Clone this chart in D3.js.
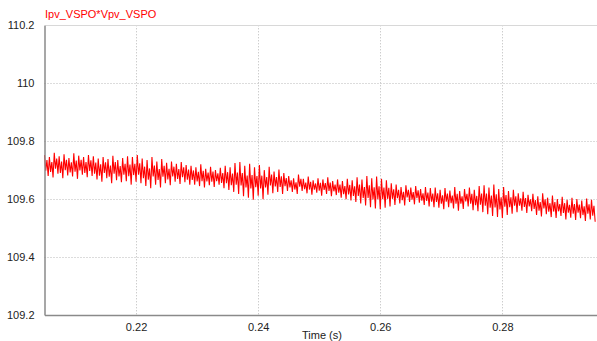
<!DOCTYPE html>
<html><head><meta charset="utf-8">
<script src="https://cdn.jsdelivr.net/npm/d3@7"></script>
<style>html,body{margin:0;padding:0;background:#fff;overflow:hidden}</style>
</head><body><svg id="c" width="597" height="341"></svg>
<script>
const seriesName = "Ipv_VSPO*Vpv_VSPO";
const xLabel = "Time (s)";
const xTicks = [0.22, 0.24, 0.26, 0.28];
const yTicks = [109.2, 109.4, 109.6, 109.8, 110, 110.2];
const yTickLabels = ["109.2", "109.4", "109.6", "109.8", "110", "110.2"];
const timeStart = 0.205;
const timeStep = 0.0002;
const values = [
109.752,109.698,109.735,109.680, 109.745,109.694,109.728,109.675, 109.760,109.705,109.740,109.688, 109.748,109.690,109.730,109.672,
109.755,109.700,109.736,109.682, 109.742,109.692,109.727,109.678, 109.758,109.695,109.733,109.670, 109.750,109.699,109.736,109.684,
109.745,109.690,109.728,109.676, 109.752,109.697,109.734,109.680, 109.748,109.688,109.726,109.668, 109.740,109.681,109.720,109.660,
109.745,109.690,109.727,109.672, 109.738,109.677,109.716,109.655, 109.750,109.688,109.728,109.665, 109.735,109.678,109.714,109.658,
109.742,109.684,109.722,109.662, 109.748,109.679,109.719,109.650, 109.745,109.683,109.722,109.660, 109.752,109.684,109.724,109.655,
109.740,109.672,109.712,109.645, 109.735,109.667,109.706,109.638, 109.745,109.678,109.716,109.650, 109.730,109.666,109.704,109.640,
109.738,109.677,109.715,109.655, 109.725,109.668,109.705,109.648, 109.730,109.678,109.712,109.660, 109.722,109.670,109.704,109.652,
109.728,109.676,109.710,109.658, 109.718,109.667,109.702,109.650, 109.715,109.666,109.699,109.650, 109.710,109.661,109.694,109.645,
109.720,109.662,109.698,109.640, 109.705,109.661,109.692,109.648, 109.712,109.660,109.695,109.642, 109.700,109.662,109.689,109.650,
109.708,109.656,109.690,109.638, 109.715,109.655,109.693,109.632, 109.710,109.648,109.688,109.625, 109.725,109.650,109.692,109.618,
109.728,109.647,109.690,109.610, 109.715,109.640,109.681,109.605, 109.722,109.637,109.683,109.598, 109.710,109.641,109.680,109.612,
109.718,109.637,109.681,109.600, 109.700,109.640,109.676,109.615, 109.712,109.647,109.685,109.620, 109.695,109.644,109.676,109.625,
109.702,109.642,109.679,109.618, 109.690,109.645,109.673,109.628, 109.680,109.640,109.665,109.625, 109.672,109.633,109.658,109.618,
109.685,109.643,109.670,109.628, 109.670,109.634,109.657,109.620, 109.678,109.633,109.660,109.615, 109.665,109.633,109.654,109.622,
109.672,109.629,109.656,109.612, 109.668,109.632,109.655,109.618, 109.675,109.628,109.657,109.610, 109.662,109.627,109.650,109.614,
109.668,109.622,109.650,109.605, 109.662,109.617,109.645,109.600, 109.670,109.616,109.649,109.595, 109.665,109.611,109.644,109.590,
109.675,109.611,109.650,109.585, 109.668,109.604,109.642,109.578, 109.680,109.604,109.648,109.572, 109.672,109.599,109.641,109.568,
109.678,109.600,109.644,109.565, 109.670,109.600,109.640,109.570, 109.665,109.601,109.639,109.575, 109.655,109.601,109.634,109.580,
109.650,109.603,109.632,109.585, 109.642,109.596,109.625,109.578, 109.648,109.606,109.632,109.590, 109.640,109.598,109.624,109.582,
109.645,109.603,109.630,109.588, 109.635,109.595,109.620,109.580, 109.642,109.594,109.623,109.575, 109.638,109.591,109.619,109.572,
109.640,109.590,109.620,109.570, 109.632,109.584,109.613,109.565, 109.638,109.591,109.619,109.572, 109.630,109.586,109.612,109.568,
109.642,109.584,109.618,109.560, 109.628,109.584,109.610,109.566, 109.635,109.592,109.618,109.575, 109.640,109.584,109.618,109.562,
109.632,109.579,109.611,109.558, 109.645,109.581,109.619,109.555, 109.648,109.577,109.619,109.548, 109.640,109.570,109.612,109.542,
109.650,109.571,109.617,109.538, 109.635,109.564,109.606,109.535, 109.642,109.574,109.614,109.545, 109.628,109.572,109.606,109.550,
109.632,109.577,109.610,109.555, 109.620,109.577,109.603,109.560, 109.625,109.573,109.604,109.552, 109.615,109.575,109.599,109.558,
109.618,109.566,109.597,109.545, 109.610,109.560,109.590,109.540, 109.620,109.568,109.599,109.548, 109.605,109.557,109.586,109.538,
109.612,109.557,109.590,109.535, 109.600,109.558,109.583,109.542, 109.608,109.552,109.586,109.530, 109.598,109.553,109.580,109.536,
109.605,109.550,109.583,109.528, 109.600,109.553,109.581,109.534, 109.595,109.545,109.575,109.525, 109.602,109.550,109.582,109.530,
109.598,109.543,109.577,109.522
];

const W = 597, H = 341;
const m = {left: 44.5, top: 25.3, right: 597, bottom: 315};
const svg = d3.select("#c");
const x = d3.scaleLinear().domain([0.205, 0.2955]).range([m.left, m.right]);
const y = d3.scaleLinear().domain([109.2, 110.2]).range([m.bottom, m.top]);
const font = "'Liberation Sans', Arial, sans-serif";

// grid
const grid = svg.append("g");
grid.selectAll(".gx").data(xTicks).join("line")
  .attr("x1", d => Math.round(x(d)) + 0.5).attr("x2", d => Math.round(x(d)) + 0.5)
  .attr("y1", m.top).attr("y2", m.bottom)
  .attr("stroke", "#b8b8b8").attr("stroke-width", 1).attr("stroke-dasharray", "1,2");
grid.selectAll(".gy").data(yTicks.slice(1, -1)).join("line")
  .attr("x1", m.left).attr("x2", m.right)
  .attr("y1", d => Math.round(y(d)) + 0.5).attr("y2", d => Math.round(y(d)) + 0.5)
  .attr("stroke", "#b8b8b8").attr("stroke-width", 1).attr("stroke-dasharray", "1,2");

// top border
svg.append("line").attr("x1", m.left).attr("x2", m.right)
  .attr("y1", Math.round(m.top) + 0.5).attr("y2", Math.round(m.top) + 0.5)
  .attr("stroke", "#d8d8d8");

// data line
const data = values.map((v, i) => [timeStart + i * timeStep, v]);
svg.append("path").datum(data)
  .attr("fill", "none").attr("stroke", "#ff0000").attr("stroke-width", 1.1)
  .attr("d", d3.line().x(d => x(d[0])).y(d => y(d[1])));

// axes
const ax = d3.axisBottom(x).tickValues(xTicks).tickSize(0).tickPadding(8).tickFormat(d3.format(".2f"));
const gx = svg.append("g").attr("transform", `translate(0,${m.bottom})`).call(ax);
gx.select(".domain").attr("stroke", "#8a8a8a").attr("stroke-width", 1.5);
gx.selectAll("text").attr("font-family", font).attr("font-size", 11).attr("fill", "#222");

const ay = d3.axisLeft(y).tickValues(yTicks).tickSize(0).tickPadding(10)
  .tickFormat((d, i) => yTickLabels[i]);
const gy = svg.append("g").attr("transform", `translate(${m.left},0)`).call(ay);
gy.select(".domain").attr("stroke", "#8a8a8a").attr("stroke-width", 1.5);
gy.selectAll("text").attr("font-family", font).attr("font-size", 11).attr("fill", "#222");

// title
svg.append("text").attr("x", 45).attr("y", 18).text(seriesName)
  .attr("font-family", font).attr("font-size", 11).attr("fill", "#ff0000");

// x label
svg.append("text").attr("x", 322).attr("y", 339).attr("text-anchor", "middle").text(xLabel)
  .attr("font-family", font).attr("font-size", 11).attr("fill", "#222");
</script></body></html>
